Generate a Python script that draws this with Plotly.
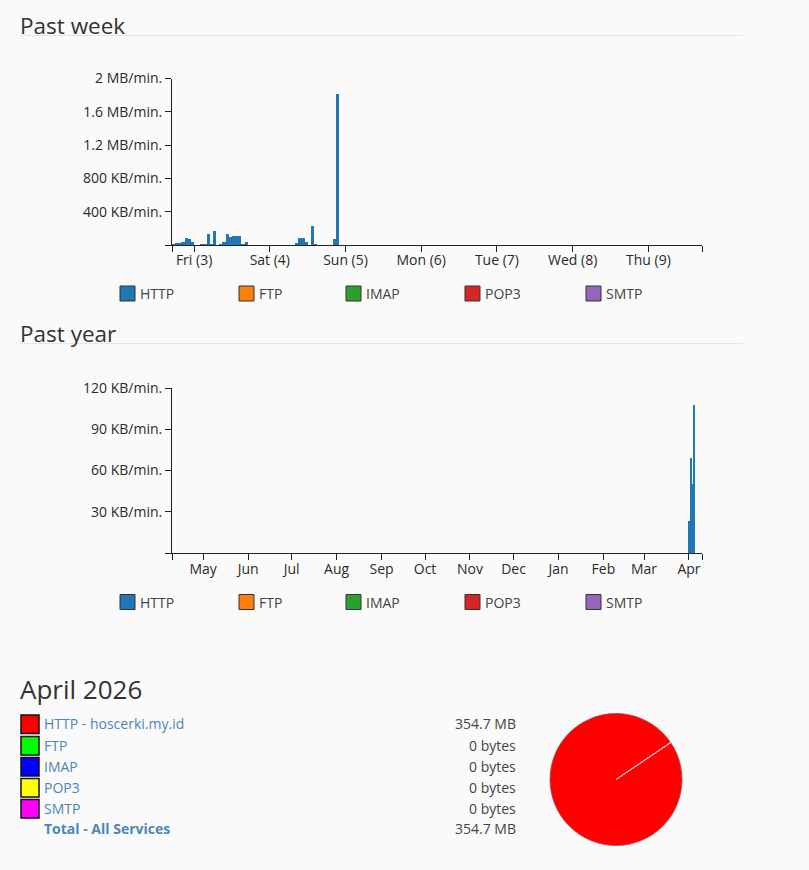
import pandas as pd
import plotly.graph_objects as go

# ---------------- data ----------------
series_names = ["HTTP", "FTP", "IMAP", "POP3", "SMTP"]
series_colors = ["#1f77b4", "#ff7f0e", "#2ca02c", "#d62728", "#9467bd"]

# Past week: hourly HTTP traffic (KB/min), starting 2026-04-02 17:00
week_start = "2026-04-02 17:00"
week_end = "2026-04-09 17:00"
week_http = [24, 28, 36, 48, 88, 80, 44, 6, 6, 18, 8, 140, 8, 180, 6, 8,
             40, 140, 100, 112, 116, 120, 8, 40, 6, 3, 2, 2, 2, 2, 2, 2,
             2, 2, 2, 2, 2, 2, 2, 32, 96, 96, 40, 4, 232, 8, 2, 2,
             2, 2, 2, 80, 1820]
week_tick_dates = ["2026-04-03", "2026-04-04", "2026-04-05", "2026-04-06",
                   "2026-04-07", "2026-04-08", "2026-04-09"]
week_tick_labels = ["Fri (3)", "Sat (4)", "Sun (5)", "Mon (6)", "Tue (7)",
                    "Wed (8)", "Thu (9)"]
week_y_vals = [0, 400, 800, 1200, 1600, 2000]
week_y_labels = ["", "400 KB/min.", "800 KB/min.", "1.2 MB/min.",
                 "1.6 MB/min.", "2 MB/min."]

# Past year: daily HTTP traffic (KB/min)
year_start = "2025-04-09 12:00"
year_end = "2026-04-10 00:00"
year_days = ["2026-04-01", "2026-04-02", "2026-04-03", "2026-04-04"]
year_http = [23, 69, 50, 108]
year_tick_dates = ["2025-05-01", "2025-06-01", "2025-07-01", "2025-08-01",
                   "2025-09-01", "2025-10-01", "2025-11-01", "2025-12-01",
                   "2026-01-01", "2026-02-01", "2026-03-01", "2026-04-01"]
year_tick_labels = ["May", "Jun", "Jul", "Aug", "Sep", "Oct", "Nov", "Dec",
                    "Jan", "Feb", "Mar", "Apr"]
year_y_vals = [0, 30, 60, 90, 120]
year_y_labels = ["", "30 KB/min.", "60 KB/min.", "90 KB/min.", "120 KB/min."]

# April 2026 summary
month_title = "April 2026"
month_labels = ["HTTP - hoscerki.my.id", "FTP", "IMAP", "POP3", "SMTP"]
month_values_mb = [354.7, 0, 0, 0, 0]
month_value_text = ["354.7 MB", "0 bytes", "0 bytes", "0 bytes", "0 bytes"]
month_colors = ["#ff0000", "#00ff00", "#0000ff", "#ffff00", "#ff00ff"]
total_label = "Total - All Services"
total_text = "354.7 MB"

# ---------------- layout helpers ----------------
W, H = 809, 870
FONT = "Open Sans"
BG = "#fafafa"


def fx(x):
    return x / W


def fy(y):
    return 1 - y / H


fig = go.Figure()

week_x = pd.date_range(week_start, periods=len(week_http), freq="h")
fig.add_trace(go.Bar(x=week_x, y=week_http, width=3600000, offset=0,
                     marker=dict(color=series_colors[0], line=dict(width=0)),
                     xaxis="x", yaxis="y", showlegend=False, name="HTTP"))

year_x = pd.to_datetime(year_days)
fig.add_trace(go.Bar(x=year_x, y=year_http, width=86400000, offset=0,
                     marker=dict(color=series_colors[0], line=dict(width=0)),
                     xaxis="x2", yaxis="y2", showlegend=False, name="HTTP"))

fig.add_trace(go.Pie(values=month_values_mb, labels=month_labels,
                     marker=dict(colors=month_colors,
                                 line=dict(color=["#a05050", "#f4b4b4", "#f4b4b4",
                                                  "#f4b4b4", "#f4b4b4"], width=0.8)),
                     textinfo="none", sort=False, rotation=56,
                     direction="clockwise", showlegend=False,
                     domain=dict(x=[fx(550), fx(682)], y=[fy(846), fy(713)])))

axis_common = dict(showline=True, linecolor="#222", linewidth=1,
                   ticks="outside", ticklen=6, tickcolor="#222", tickwidth=1,
                   showgrid=False, zeroline=False, automargin=False,
                   tickfont=dict(family=FONT, size=14, color="#2a2a2a"))

fig.update_layout(
    width=W, height=H, margin=dict(l=0, r=0, t=0, b=0, pad=0, autoexpand=False),
    paper_bgcolor=BG, plot_bgcolor=BG, bargap=0,
    font=dict(family=FONT, color="#333"),
    xaxis=dict(domain=[fx(172), fx(702)], type="date",
               range=[week_start, week_end],
               tickmode="array",
               tickvals=[week_start] + week_tick_dates + [week_end],
               ticktext=[""] + week_tick_labels + [""],
               ticklabelstandoff=-4,
               anchor="y", **axis_common),
    yaxis=dict(domain=[fy(245), fy(78.5)], range=[0, 2000],
               tickmode="array", tickvals=week_y_vals, ticktext=week_y_labels,
               anchor="x", **axis_common),
    xaxis2=dict(domain=[fx(172), fx(702)], type="date",
                range=[year_start, year_end],
                tickmode="array",
                tickvals=[year_start] + year_tick_dates + [year_end],
                ticktext=[""] + year_tick_labels + [""],
                ticklabelstandoff=-3,
                anchor="y2", **axis_common),
    yaxis2=dict(domain=[fy(553), fy(388)], range=[0, 120],
                tickmode="array", tickvals=year_y_vals, ticktext=year_y_labels,
                anchor="x2", **axis_common),
)

annotations = []
shapes = []

# Section headings with rules
for title, ty, ly in [("Past week", 25, 35.5), ("Past year", 333, 343.5)]:
    annotations.append(dict(text=title, x=fx(18), y=fy(ty), xref="paper",
                            yref="paper", xanchor="left", yanchor="middle",
                            showarrow=False,
                            font=dict(family=FONT, size=22.5, color="#333")))
    shapes.append(dict(type="line", xref="paper", yref="paper",
                       x0=fx(20), x1=fx(743), y0=fy(ly), y1=fy(ly),
                       line=dict(color="#e6e6e6", width=1)))

# Custom legends under each chart
legend_x = [120, 239, 346, 465, 586]
for ly in [293.5, 602]:
    for name, color, lx in zip(series_names, series_colors, legend_x):
        shapes.append(dict(type="rect", xref="paper", yref="paper",
                           x0=fx(lx), x1=fx(lx + 15), y0=fy(ly + 7.5),
                           y1=fy(ly - 7.5), fillcolor=color,
                           line=dict(color="#333", width=1)))
        annotations.append(dict(text=name, x=fx(lx + 18), y=fy(ly),
                                xref="paper", yref="paper", xanchor="left",
                                yanchor="middle", showarrow=False,
                                font=dict(family=FONT, size=14, color="#444")))

# April 2026 section
annotations.append(dict(text=month_title, x=fx(18), y=fy(689), xref="paper",
                        yref="paper", xanchor="left", yanchor="middle",
                        showarrow=False,
                        font=dict(family=FONT, size=26, color="#333")))

LINK = "#4a86b6"
row_y = [723.5, 745, 766, 787, 808]
for lab, vt, col, ry in zip(month_labels, month_value_text, month_colors, row_y):
    shapes.append(dict(type="rect", xref="paper", yref="paper",
                       x0=fx(21), x1=fx(39), y0=fy(ry + 10), y1=fy(ry - 8.5),
                       fillcolor=col, line=dict(color="#111", width=1.5)))
    annotations.append(dict(text=lab, x=fx(42), y=fy(ry), xref="paper",
                            yref="paper", xanchor="left", yanchor="middle",
                            showarrow=False,
                            font=dict(family=FONT, size=14, color=LINK)))
    annotations.append(dict(text=vt, x=fx(518), y=fy(ry), xref="paper",
                            yref="paper", xanchor="right", yanchor="middle",
                            showarrow=False,
                            font=dict(family=FONT, size=14, color="#444")))

annotations.append(dict(text="<b>" + total_label + "</b>", x=fx(42), y=fy(828),
                        xref="paper", yref="paper", xanchor="left",
                        yanchor="middle", showarrow=False,
                        font=dict(family=FONT, size=14, color=LINK)))
annotations.append(dict(text=total_text, x=fx(518), y=fy(828), xref="paper",
                        yref="paper", xanchor="right", yanchor="middle",
                        showarrow=False,
                        font=dict(family=FONT, size=14, color="#444")))

fig.update_layout(annotations=annotations, shapes=shapes)

fig.write_html("out.html")
